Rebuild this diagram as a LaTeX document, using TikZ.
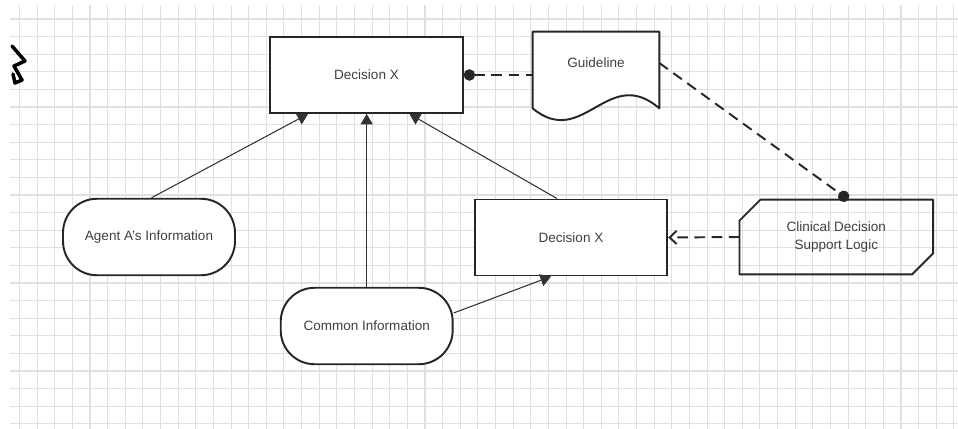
\documentclass[tikz,border=0pt]{standalone}
\usepackage{fontspec}
\setmainfont{Liberation Sans}
\usetikzlibrary{arrows.meta}

\tikzset{
  gridline/.style = {black!12, line width=0.6pt},
  box/.style = {draw=black!85, line width=1.1pt, minimum width=3.85cm, minimum height=1.52cm, inner sep=0pt},
  info/.style = {draw=black!85, line width=1.1pt, rounded corners=0.68cm, minimum width=3.44cm, minimum height=1.53cm, inner sep=0pt},
  flow/.style = {black!80, line width=0.6pt, -{Triangle[width=7pt,length=6pt]}},
  link/.style = {black!85, line width=1.1pt, dash pattern=on 6pt off 3.8pt},
}

\begin{document}
\begin{tikzpicture}[x=0.02cm, y=-0.02cm, font=\fontsize{7.7}{10.8}\selectfont, text=black!75]
  \useasboundingbox (0,0) rectangle (958,429);

  % squared paper
  \foreach \i in {0,...,53}
    \draw[gridline] (19.5+17.63*\i,5) -- (19.5+17.63*\i,429);
  \foreach \j in {0,...,23}
    \draw[gridline] (10,19+17.6*\j) -- (958,19+17.6*\j);

  % pen mark top left
  \draw[line width=2pt, line join=round, line cap=round]
    (12,46) -- (25,61) -- (14,66) -- (22,80) -- (15,83) -- (13,74);

  \node[box, fill=white] (dtop) at (366.5,75)  {Decision X};
  \node[box, fill=white] (dlow) at (571,237.5) {Decision X};

  \node[info, fill=white] (agent)  at (149,237)   {Agent A's Information};
  \node[info, fill=white] (common) at (366.7,326) {Common Information};

  % guideline document
  \node[minimum width=2.52cm, minimum height=1.52cm, inner sep=0pt] (guide) at (596,70) {};
  \draw[draw=black!85, fill=white, line width=1.1pt, line join=round]
    (guide.south west) -- (guide.north west) -- (guide.north east) -- (guide.south east)
    .. controls (608,64) and (583,150) .. (guide.south west) -- cycle;
  \node at (guide.center) {\raisebox{0.05cm}[0pt][0pt]{Guideline}};

  % decision support logic
  \node[minimum width=3.86cm, minimum height=1.48cm, inner sep=0pt, align=center] (clin) at (836.3,237) {Clinical Decision\\Support Logic};
  \draw[draw=black!85, line width=1.1pt, line join=round]
    ([xshift=0.42cm]clin.north west) -- (clin.north east) -- ([yshift=0.42cm]clin.south east)
    -- ([xshift=-0.42cm]clin.south east) -- (clin.south west) -- ([yshift=-0.42cm]clin.north west) -- cycle;

  \draw[flow] ([xshift=0.05cm]agent.north) -- ([xshift=-1.17cm]dtop.south);
  \draw[flow] (common.north) -- (common.north |- dtop.south);
  \draw[flow] ([xshift=-0.28cm]dlow.north) -- ([xshift=0.86cm]dtop.south);
  \draw[flow] ([yshift=0.26cm]common.east) -- ([xshift=-0.4cm]dlow.south);

  \draw[link, {Circle[length=6.5pt]}-] (dtop.east) -- (dtop.east -| guide.west);
  \draw[link, -{Circle[length=6.5pt]}] ([yshift=0.14cm]guide.east) -- ([xshift=0.24cm]clin.north);
  \draw[link, -{Straight Barb[length=4pt,width=7.5pt]}] (clin.west) -- (dlow.east);
\end{tikzpicture}
\end{document}
